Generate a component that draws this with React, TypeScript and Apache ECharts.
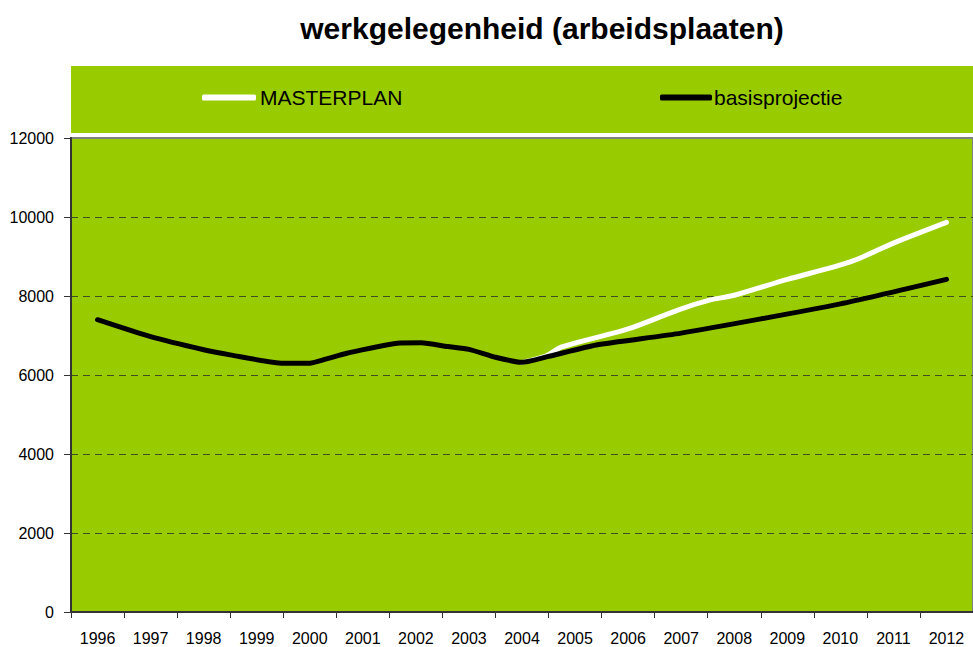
import React, { useEffect, useRef } from "react";
import * as echarts from "echarts";

const years = ["1996","1997","1998","1999","2000","2001","2002","2003","2004","2005","2006","2007","2008","2009","2010","2011","2012"];
const yTicks = { min: 0, max: 12000, interval: 2000 };

// [decimal year, arbeidsplaatsen]
const basisprojectie: [number, number][] = [
  [1996, 7400], [1997, 6970], [1998, 6640], [1998.5, 6510], [1999.5, 6300],
  [2000, 6300], [2000.3, 6400], [2000.7, 6550], [2001.7, 6810], [2002.1, 6815],
  [2002.6, 6720], [2003, 6650], [2003.5, 6450], [2004, 6320], [2004.5, 6470],
  [2005.4, 6760], [2007, 7060], [2010, 7800], [2012, 8420],
];
const masterplan: [number, number][] = [
  [2004, 6320], [2004.45, 6480], [2004.75, 6710], [2006, 7165], [2006.95, 7650],
  [2007.55, 7900], [2008, 8020], [2009, 8420], [2010.2, 8870], [2011, 9340], [2012, 9865],
];

const GREEN = "#99CC00";
const FONT = "'Liberation Sans', Arial, sans-serif";

export default function App() {
  const ref = useRef<HTMLDivElement>(null);
  useEffect(() => {
    const chart = echarts.init(ref.current!, null, { renderer: "svg" });
    chart.setOption({
      animation: false,
      backgroundColor: "#ffffff",
      textStyle: { fontFamily: FONT },
      title: {
        text: "werkgelegenheid (arbeidsplaaten)",
        left: 537,
        top: 8,
        textAlign: "center",
        textStyle: { fontFamily: FONT, fontSize: 30, fontWeight: "bold", color: "#000" },
      },
      graphic: [
        { type: "rect", z: 0, shape: { x: 71, y: 66, width: 906, height: 67 }, style: { fill: GREEN } },
      ],
      legend: [
        {
          data: ["MASTERPLAN"], left: 202, top: 87, padding: 0, itemWidth: 54, itemHeight: 6,
          icon: "roundRect",
          textStyle: { fontFamily: FONT, fontSize: 21, color: "#000", padding: [0, 0, 0, -1] },
        },
        {
          data: ["basisprojectie"], left: 660, top: 87, padding: 0, itemWidth: 52, itemHeight: 6,
          icon: "roundRect",
          textStyle: { fontFamily: FONT, fontSize: 21, color: "#000", padding: [0, 0, 0, -3] },
        },
      ],
      grid: {
        left: 71, right: -4, top: 138, bottom: 35, show: true,
        backgroundColor: GREEN, borderColor: "#808080", borderWidth: 2,
      },
      xAxis: [
        {
          type: "category", data: years, boundaryGap: true,
          axisLine: { lineStyle: { color: "#333", width: 2 } },
          axisTick: { show: true, length: 6, lineStyle: { color: "#333", width: 1 } },
          axisLabel: { color: "#000", fontSize: 16, margin: 18, interval: 0, fontFamily: FONT },
          splitLine: { show: false },
        },
        {
          type: "value", min: 1995.5, max: 2012.5, show: false,
          splitLine: { show: false },
        },
      ],
      yAxis: {
        type: "value", min: yTicks.min, max: yTicks.max, interval: yTicks.interval,
        axisLine: { show: true, lineStyle: { color: "#333", width: 2 } },
        axisTick: { show: true, length: 7, lineStyle: { color: "#333", width: 1 } },
        axisLabel: { color: "#000", fontSize: 16, margin: 17, fontFamily: FONT, formatter: (v: number) => String(v) },
        splitLine: {
          show: true, showMinLine: false, showMaxLine: false,
          lineStyle: { color: "#3f4d1f", width: 1, type: [7, 5] },
        },
      },
      series: [
        {
          name: "MASTERPLAN", type: "line", xAxisIndex: 1, data: masterplan,
          showSymbol: false, symbol: "none", smooth: 0.3,
          lineStyle: { color: "#ffffff", width: 5, cap: "round", join: "round" },
          itemStyle: { color: "#ffffff" },
        },
        {
          name: "basisprojectie", type: "line", xAxisIndex: 1, data: basisprojectie,
          showSymbol: false, symbol: "none", smooth: 0.2,
          lineStyle: { color: "#000000", width: 5, cap: "round", join: "round" },
          itemStyle: { color: "#000000" },
        },
      ],
    });
    return () => chart.dispose();
  }, []);
  return <div ref={ref} style={{ width: 973, height: 647, position: "absolute", left: 0, top: 0 }} />;
}
